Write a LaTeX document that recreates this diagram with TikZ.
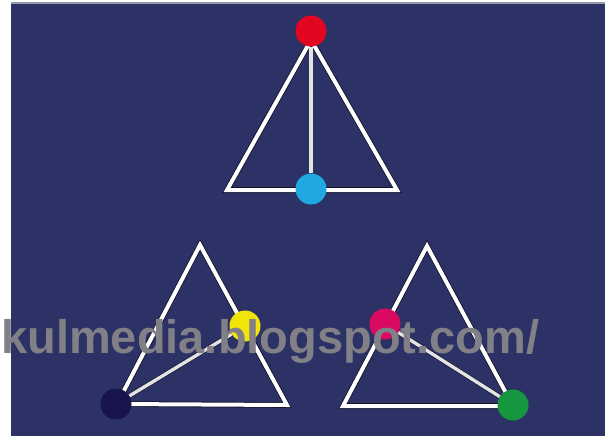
\documentclass[tikz,border=0pt]{standalone}
\usepackage{fontspec}
\newfontfamily\markfont{Liberation Sans}
\usepackage{tikz}
\definecolor{bgnavy}{RGB}{44,49,102}
\definecolor{edgegray}{RGB}{150,152,165}
\definecolor{shade}{RGB}{18,18,42}
\definecolor{dotred}{RGB}{226,6,32}
\definecolor{dotblue}{RGB}{32,168,226}
\definecolor{dotnavy}{RGB}{24,20,76}
\definecolor{dotyellow}{RGB}{240,228,8}
\definecolor{dotpink}{RGB}{218,10,98}
\definecolor{dotgreen}{RGB}{22,150,62}
\definecolor{markgray}{RGB}{128,128,134}

\begin{document}
\begin{tikzpicture}[x=1pt,y=-1pt,line join=miter,side/.style={draw=shade,double=white,double distance=4pt,line width=0.8pt},inner/.style={draw=shade,double=white!78!gray,double distance=3.4pt,line width=0.6pt},dot/.style={circle,inner sep=0pt,minimum size=31pt}]
\useasboundingbox (0,0) rectangle (605,436);
\fill[white] (0,0) rectangle (605,436);
\fill[bgnavy] (11,3) rectangle (605,436);
\draw[edgegray,line width=1.5pt] (11,3)--(605,3);
% top triangle
\coordinate (T1) at (311,40);\coordinate (T2) at (227,190);\coordinate (T3) at (397,190);
\draw[side] (T1)--(T2)--(T3)--cycle;
\node[dot,fill=dotred] (red) at (311,31) {};
\node[dot,fill=dotblue] (blue) at (311,189) {};
\draw[inner] (red)--(blue);
% bottom left triangle
\coordinate (L1) at (200,245);\coordinate (L2) at (117,404);\coordinate (L3) at (287,405);
\draw[side] (L1)--(L2)--(L3)--cycle;
\node[dot,fill=dotnavy] (navy) at (116,404) {};
\node[dot,fill=dotyellow] (yellow) at (245,326) {};
\draw[inner] (navy)--(yellow);
% bottom right triangle
\coordinate (R1) at (427,246);\coordinate (R2) at (343,406);\coordinate (R3) at (513,406);
\draw[side] (R1)--(R2)--(R3)--cycle;
\node[dot,fill=dotpink] (pink) at (385,324) {};
\node[dot,fill=dotgreen] (green) at (513,405) {};
\draw[inner] (pink)--(green);
% watermark
\node[anchor=base west,inner sep=0pt,text=markgray,font=\markfont\bfseries\fontsize{47}{50}\selectfont] (mark) at (1,353) {kulmedia.blogspot.com/};
\end{tikzpicture}
\end{document}
